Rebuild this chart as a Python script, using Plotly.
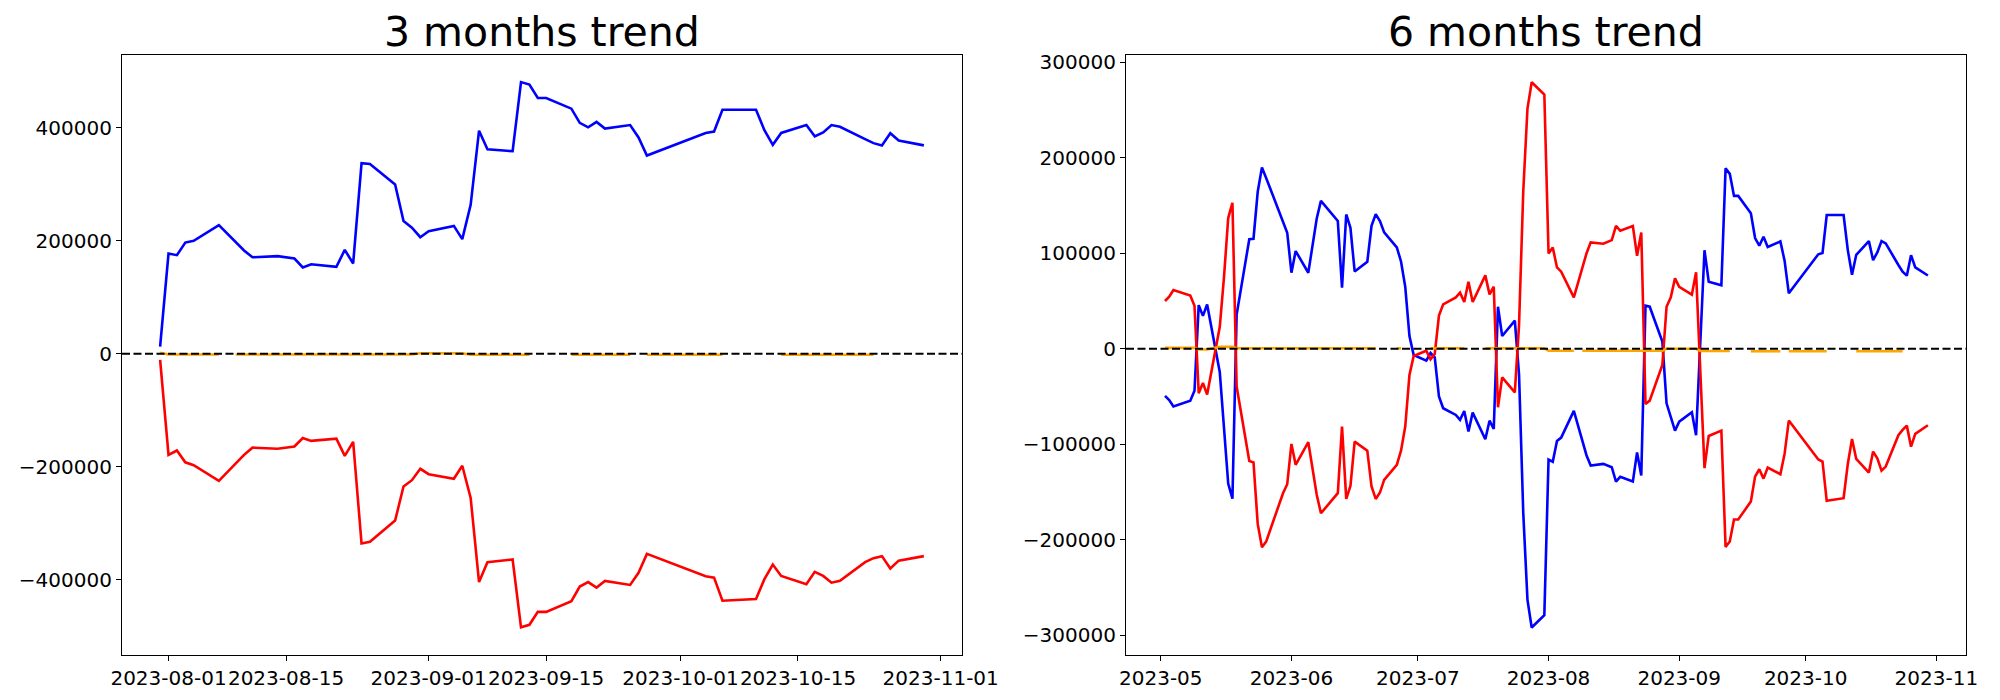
import plotly.graph_objects as go

# ---------------- 3 months trend (left) ----------------
dates3 = ["2023-07-31", "2023-08-01", "2023-08-02", "2023-08-03", "2023-08-04", "2023-08-07",
          "2023-08-10", "2023-08-11", "2023-08-14", "2023-08-16", "2023-08-17", "2023-08-18",
          "2023-08-21", "2023-08-22", "2023-08-23", "2023-08-24", "2023-08-25", "2023-08-28",
          "2023-08-29", "2023-08-30", "2023-08-31", "2023-09-01", "2023-09-04", "2023-09-05",
          "2023-09-06", "2023-09-07", "2023-09-08", "2023-09-11", "2023-09-12", "2023-09-13",
          "2023-09-14", "2023-09-15", "2023-09-18", "2023-09-19", "2023-09-20", "2023-09-21",
          "2023-09-22", "2023-09-25", "2023-09-26", "2023-09-27", "2023-10-04", "2023-10-05",
          "2023-10-06", "2023-10-10", "2023-10-11", "2023-10-12", "2023-10-13", "2023-10-16",
          "2023-10-17", "2023-10-18", "2023-10-19", "2023-10-20", "2023-10-23", "2023-10-24",
          "2023-10-25", "2023-10-26", "2023-10-27", "2023-10-30"]
blue3 = [13000, 177500, 174700, 197000, 200000, 228000, 183000, 171000, 173000, 168700,
         153000, 158700, 154000, 184000, 160000, 337500, 336000, 299700, 235000, 223500,
         206500, 217000, 226500, 203000, 263700, 395000, 362000, 358700, 481000, 476600,
         453000, 453000, 434000, 409000, 401000, 410600, 398800, 405000, 383000, 351000,
         391000, 393500, 432000, 432000, 396000, 370000, 391000, 405000, 385000, 392000,
         405000, 402000, 380000, 373000, 369000, 390600, 377500, 369000]
red3 = [-10600, -178800, -171000, -192000, -197000, -224800, -178800, -166000, -168000, -164000,
        -149000, -154000, -150000, -180500, -155800, -335700, -332700, -295000, -234800, -223600,
        -203500, -213000, -221000, -198000, -255000, -404000, -368700, -364000, -484000, -479600,
        -456600, -456600, -437700, -411800, -404000, -413600, -402000, -409000, -387600, -354000,
        -393500, -396000, -437000, -434000, -398800, -373000, -393000, -407600, -385800, -393000,
        -405000, -401800, -368700, -361600, -358000, -380000, -366000, -358000]
orange3_dates = ["2023-07-31", "2023-08-01", "2023-08-07", "2023-08-08", "2023-08-09", "2023-08-30",
                 "2023-08-31", "2023-09-05", "2023-09-06", "2023-09-13", "2023-09-15", "2023-09-18",
                 "2023-09-25", "2023-09-26", "2023-09-27", "2023-10-06", "2023-10-09", "2023-10-13",
                 "2023-10-24"]
orange3 = [2000, -1200, -1200, None, -1000, -1000, 1000, 1000, -1500, -1500, None, -1500,
           -1500, None, -1500, -1500, None, -1500, -1500]
ticks3 = ["2023-08-01", "2023-08-15", "2023-09-01", "2023-09-15", "2023-10-01", "2023-10-15", "2023-11-01"]
yticks3 = [-400000, -200000, 0, 200000, 400000]

# ---------------- 6 months trend (right) ----------------
dates6 = ["2023-05-02", "2023-05-03", "2023-05-04", "2023-05-08", "2023-05-09", "2023-05-10",
          "2023-05-11", "2023-05-12", "2023-05-15", "2023-05-16", "2023-05-17", "2023-05-18",
          "2023-05-19", "2023-05-22", "2023-05-23", "2023-05-24", "2023-05-25", "2023-05-26",
          "2023-05-30", "2023-05-31", "2023-06-01", "2023-06-02", "2023-06-05", "2023-06-07",
          "2023-06-08", "2023-06-12", "2023-06-13", "2023-06-14", "2023-06-15", "2023-06-16",
          "2023-06-19", "2023-06-20", "2023-06-21", "2023-06-22", "2023-06-23", "2023-06-26",
          "2023-06-27", "2023-06-28", "2023-06-29", "2023-06-30", "2023-07-03", "2023-07-04",
          "2023-07-05", "2023-07-06", "2023-07-07", "2023-07-10", "2023-07-11", "2023-07-12",
          "2023-07-13", "2023-07-14", "2023-07-17", "2023-07-18", "2023-07-19", "2023-07-20",
          "2023-07-21", "2023-07-24", "2023-07-25", "2023-07-26", "2023-07-27", "2023-07-28",
          "2023-07-31", "2023-08-01", "2023-08-02", "2023-08-03", "2023-08-04", "2023-08-07",
          "2023-08-10", "2023-08-11", "2023-08-14", "2023-08-16", "2023-08-17", "2023-08-18",
          "2023-08-21", "2023-08-22", "2023-08-23", "2023-08-24", "2023-08-25", "2023-08-28",
          "2023-08-29", "2023-08-30", "2023-08-31", "2023-09-01", "2023-09-04", "2023-09-05",
          "2023-09-07", "2023-09-08", "2023-09-11", "2023-09-12", "2023-09-13", "2023-09-14",
          "2023-09-15", "2023-09-18", "2023-09-19", "2023-09-20", "2023-09-21", "2023-09-22",
          "2023-09-25", "2023-09-26", "2023-09-27", "2023-10-04", "2023-10-05", "2023-10-06",
          "2023-10-10", "2023-10-11", "2023-10-12", "2023-10-13", "2023-10-16", "2023-10-17",
          "2023-10-18", "2023-10-19", "2023-10-20", "2023-10-23", "2023-10-24", "2023-10-25",
          "2023-10-26", "2023-10-27", "2023-10-30"]
blue6 = [-49300, -53600, -60400, -54500, -44000, 45700, 34500, 46400, -24500, -85000,
         -141200, -157000, 35800, 114800, 115300, 164500, 190000, 179000, 131300, 121600,
         79700, 102400, 79700, 136500, 155000, 134000, 64000, 140700, 126700, 81000,
         91200, 128900, 141100, 133800, 122000, 106200, 91500, 65000, 13400, -6500,
         -12400, -4400, -9000, -50000, -62300, -69300, -74500, -65100, -86700, -66900,
         -94800, -75300, -84000, 44100, 13400, 29500, -27000, -172000, -263000, -292000,
         -279000, -116000, -118300, -96500, -93000, -65100, -111500, -122300, -120600, -124100,
         -139100, -134200, -139100, -108700, -132800, 45200, 44100, 7500, -57100, -70400,
         -85700, -76300, -66500, -90600, 103200, 70300, 66500, 189000, 183300, 160200,
         160200, 142100, 116000, 108000, 117400, 106600, 112500, 92300, 58100, 99000,
         100300, 140100, 140100, 103400, 77600, 98500, 112800, 92900, 101000, 112800,
         110400, 87800, 80800, 76600, 98100, 85200, 76800]
red6 = [50100, 54600, 61600, 55800, 45000, -46600, -35800, -48000, 23000, 75000,
        137000, 153000, -39600, -117500, -119000, -183500, -208000, -202000, -151300, -141900,
        -99700, -121600, -97900, -153000, -172300, -151300, -81500, -157300, -143700, -97200,
        -106700, -144300, -157300, -150600, -137400, -121600, -106700, -81500, -27400, -7500,
        -2000, -11000, -5400, 34700, 46600, 53900, 58800, 49000, 70300, 49000,
        76900, 57000, 65000, -61300, -29900, -45600, 25000, 165000, 251700, 279300,
        266400, 99900, 106200, 85200, 80800, 53900, 99900, 111500, 110100, 113900,
        128900, 123700, 128600, 97500, 121900, -57800, -54300, -17000, 44100, 53900,
        73800, 65000, 56700, 80100, -125100, -91300, -85700, -207500, -201900, -178900,
        -178900, -160000, -133900, -126200, -136000, -124400, -131400, -110100, -75200, -116000,
        -118200, -159300, -156500, -120600, -94400, -115400, -129700, -107700, -114700, -127600,
        -123400, -90600, -85000, -80500, -102500, -89200, -80100]
orange6_dates = ["2023-05-02", "2023-05-09", "2023-05-10", "2023-05-12", "2023-05-15", "2023-05-18",
                 "2023-05-19", "2023-06-21", "2023-06-22", "2023-06-26", "2023-06-27", "2023-06-30",
                 "2023-07-04", "2023-07-12", "2023-07-14", "2023-07-17", "2023-07-31", "2023-08-01",
                 "2023-08-07", "2023-08-08", "2023-08-09", "2023-08-28", "2023-08-29", "2023-09-05",
                 "2023-09-06", "2023-09-13", "2023-09-15", "2023-09-18", "2023-09-25", "2023-09-26",
                 "2023-09-27", "2023-10-06", "2023-10-09", "2023-10-13", "2023-10-24"]
orange6 = [1000, 1000, -800, -800, 2000, 2000, 500, 500, None, 500, 500, None,
           500, 500, None, 500, 500, -2000, -2000, None, -2000, -2000, 0, 0,
           -2300, -2300, None, -2600, -2600, None, -2600, -2600, None, -2600, -2600]
ticks6 = ["2023-05-01", "2023-06-01", "2023-07-01", "2023-08-01", "2023-09-01", "2023-10-01", "2023-11-01"]
yticks6 = [-300000, -200000, -100000, 0, 100000, 200000, 300000]

FONT = "DejaVu Sans"
LW = 2.6

fig = go.Figure()
fig.add_trace(go.Scatter(x=dates3, y=blue3, mode="lines", line=dict(color="#0000FF", width=LW),
                         xaxis="x", yaxis="y", showlegend=False))
fig.add_trace(go.Scatter(x=dates3, y=red3, mode="lines", line=dict(color="#FF0000", width=LW),
                         xaxis="x", yaxis="y", showlegend=False))
fig.add_trace(go.Scatter(x=orange3_dates, y=orange3, mode="lines", connectgaps=False,
                         line=dict(color="#FFA500", width=LW), xaxis="x", yaxis="y", showlegend=False))

fig.add_trace(go.Scatter(x=dates6, y=blue6, mode="lines", line=dict(color="#0000FF", width=LW),
                         xaxis="x2", yaxis="y2", showlegend=False))
fig.add_trace(go.Scatter(x=dates6, y=red6, mode="lines", line=dict(color="#FF0000", width=LW),
                         xaxis="x2", yaxis="y2", showlegend=False))
fig.add_trace(go.Scatter(x=orange6_dates, y=orange6, mode="lines", connectgaps=False,
                         line=dict(color="#FFA500", width=LW), xaxis="x2", yaxis="y2", showlegend=False))

ydom = [45 / 700, 645 / 700]
axis_common = dict(showline=True, linecolor="black", linewidth=1.2, mirror=True,
                   ticks="outside", ticklen=5, tickwidth=1.2, tickcolor="black",
                   showgrid=False, zeroline=False, automargin=False,
                   tickfont=dict(family=FONT, size=20, color="black"))

fig.update_layout(
    width=2000, height=700,
    margin=dict(l=0, r=0, t=0, b=0),
    paper_bgcolor="white", plot_bgcolor="white",
    font=dict(family=FONT, color="black"),
    xaxis=dict(domain=[122 / 2000, 962 / 2000], type="date",
               range=["2023-07-26 11:00", "2023-11-03 13:00"],
               tickmode="array", tickvals=ticks3, tickformat="%Y-%m-%d", tickangle=0,
               anchor="y", **axis_common),
    yaxis=dict(domain=ydom, range=[-533000, 529000], tickmode="array", tickvals=yticks3,
               tickformat="d", anchor="x", **axis_common),
    xaxis2=dict(domain=[1126 / 2000, 1966 / 2000], type="date",
                range=["2023-04-22 18:00", "2023-11-08 01:00"],
                tickmode="array", tickvals=ticks6, tickformat="%Y-%m", tickangle=0,
                anchor="y2", **axis_common),
    yaxis2=dict(domain=ydom, range=[-320800, 307800], tickmode="array", tickvals=yticks6,
                tickformat="d", anchor="x2", **axis_common),
    shapes=[
        dict(type="line", xref="x domain", yref="y", x0=0, x1=1, y0=0, y1=0, layer="above",
             line=dict(color="black", width=2, dash="8px,3.5px")),
        dict(type="line", xref="x2 domain", yref="y2", x0=0, x1=1, y0=0, y1=0, layer="above",
             line=dict(color="black", width=2, dash="8px,3.5px")),
    ],
    annotations=[
        dict(text="3 months trend", xref="paper", yref="paper", x=542 / 2000, y=1 - 32 / 700,
             xanchor="center", yanchor="middle", showarrow=False,
             font=dict(family=FONT, size=41, color="black")),
        dict(text="6 months trend", xref="paper", yref="paper", x=1546 / 2000, y=1 - 32 / 700,
             xanchor="center", yanchor="middle", showarrow=False,
             font=dict(family=FONT, size=41, color="black")),
    ],
)

fig.write_html("out.html", config={"displayModeBar": False},
               post_script="document.body.style.margin='0px';")
